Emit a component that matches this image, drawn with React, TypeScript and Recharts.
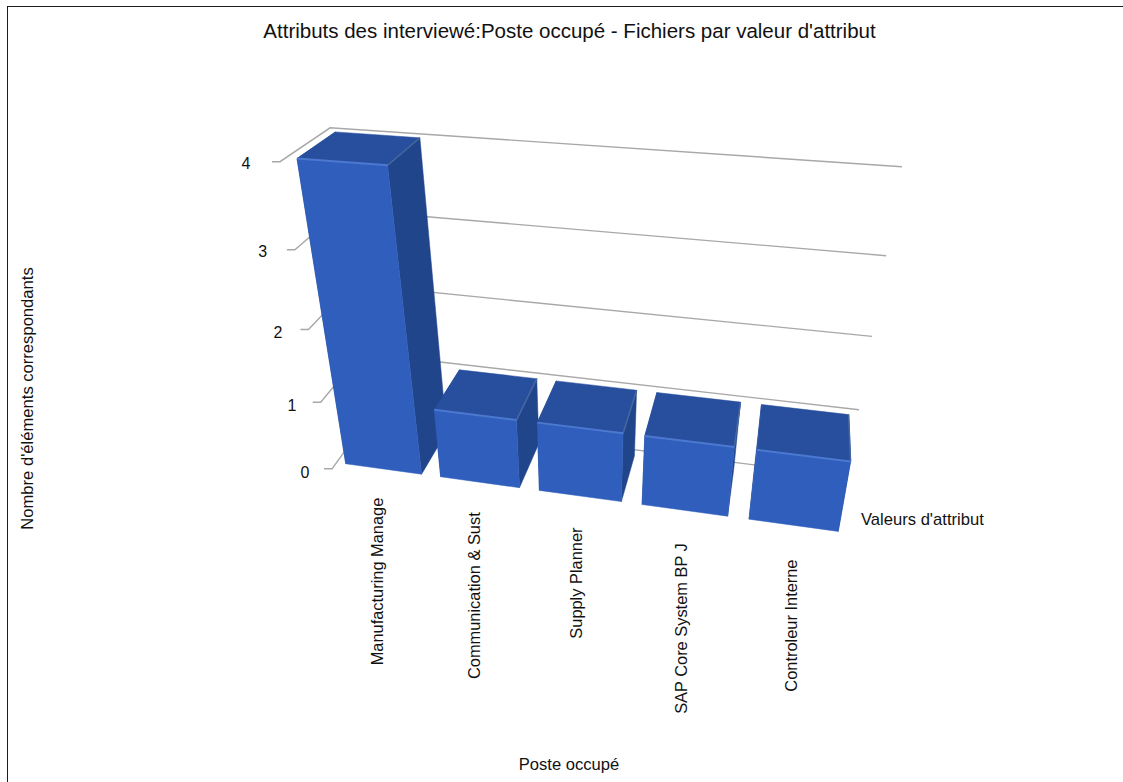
import React from "react";
import { BarChart, Bar, XAxis, YAxis, CartesianGrid } from "recharts";

const categories = [
  "Manufacturing Manage",
  "Communication & Sust",
  "Supply Planner",
  "SAP Core System BP J",
  "Controleur Interne",
];
const counts = [4, 1, 1, 1, 1];
const valueTicks = [0, 1, 2, 3, 4];

const rows = categories.map((name, i) => ({ name, count: counts[i] }));

const W = 1123;
const H = 782;
const PLOT = { left: 100, top: 100, width: 923, height: 582 };
const V_MAX = 4;
const BAR_FRONT = 0.11;
const BAR_BACK = 0.89;
const FONT = "'Liberation Sans', Arial, sans-serif";
const LABEL_SIZE = 16.6;

// Camera: homogeneous projection of (across, height, depth) in unit space onto the page.
const CAM = [
  0.43534, -0.09972, 0.06945, 0.33199,
  0.01942, -0.33456, -0.01737, 0.46875,
  -0.09683, -0.17036, 0.0844,
];

function project(u: number, h: number, d: number): [number, number] {
  const w = CAM[8] * u + CAM[9] * h + CAM[10] * d + 1;
  return [
    (1000 * (CAM[0] * u + CAM[1] * h + CAM[2] * d + CAM[3])) / w,
    (1000 * (CAM[4] * u + CAM[5] * h + CAM[6] * d + CAM[7])) / w,
  ];
}

const toU = (x: number) => (x - PLOT.left) / PLOT.width;
const toH = (y: number) => (PLOT.top + PLOT.height - y) / PLOT.height;
const poly = (pts: [number, number][]) => pts.map((p) => p.map((n) => n.toFixed(1)).join(",")).join(" ");

// Turns the flat rectangle from the bar scale into a lit box.
function BoxBar(props: any) {
  const { x, y, width, height } = props;
  const u0 = toU(x);
  const u1 = toU(x + width);
  const h1 = toH(y);
  const h0 = toH(y + height);
  const c = (u: number, h: number, d: number) => project(u, h, d);
  const ftl = c(u0, h1, BAR_FRONT);
  const ftr = c(u1, h1, BAR_FRONT);
  const fbl = c(u0, h0, BAR_FRONT);
  const fbr = c(u1, h0, BAR_FRONT);
  const btl = c(u0, h1, BAR_BACK);
  const btr = c(u1, h1, BAR_BACK);
  const bbl = c(u0, h0, BAR_BACK);
  const bbr = c(u1, h0, BAR_BACK);
  const SIDE = "#21458a";
  const TOP = "#274f9e";
  const FRONT = "#2f5ebd";
  return (
    <g>
      <polygon points={poly([fbl, ftl, btl, bbl])} fill={SIDE} stroke={SIDE} strokeWidth={0.5} />
      <polygon points={poly([fbr, ftr, btr, bbr])} fill={SIDE} stroke={SIDE} strokeWidth={0.5} />
      <polygon points={poly([ftl, ftr, btr, btl])} fill={TOP} stroke={TOP} strokeWidth={0.5} />
      <polygon points={poly([fbl, fbr, ftr, ftl])} fill={FRONT} stroke={FRONT} strokeWidth={0.5} />
      <line x1={ftr[0]} y1={ftr[1]} x2={btr[0]} y2={btr[1]} stroke="#46689f" strokeWidth={1.5} />
      <line x1={ftl[0]} y1={ftl[1]} x2={ftr[0]} y2={ftr[1]} stroke="#4c78d0" strokeWidth={2} />
    </g>
  );
}

// One height level: tick stub, left wall run and back wall run.
function LevelLine(props: any) {
  const h = toH(props.y1);
  const front = project(0, h, 0);
  const corner = project(0, h, 1);
  const end = project(1, h, 1);
  const d = `M${(front[0] - 8).toFixed(1)},${front[1].toFixed(1)} L${front[0].toFixed(1)},${front[1].toFixed(1)} L${corner[0].toFixed(1)},${corner[1].toFixed(1)} L${end[0].toFixed(1)},${end[1].toFixed(1)}`;
  return <path key={props.key ?? props.index} d={d} fill="none" stroke="#a8a8a8" strokeWidth={1.4} />;
}

function ValueTick(props: any) {
  const { y, payload } = props;
  const h = toH(y);
  const front = project(0, h, 0);
  return (
    <text
      x={front[0] - 27 - 7 * h}
      y={front[1] + 9.5 - 2.5 * h}
      textAnchor="middle"
      fontFamily={FONT}
      fontSize={16}
      fill="#111"
    >
      {payload.value}
    </text>
  );
}

function CategoryTick(props: any) {
  const { x, payload } = props;
  const u = toU(x);
  const base = project(u, 0, BAR_FRONT);
  const px = base[0] - 7 + 5.5 * u;
  const py = base[1] + 28 + 7 * u;
  return (
    <text
      transform={`translate(${px.toFixed(1)},${py.toFixed(1)}) rotate(-90)`}
      textAnchor="end"
      dy={6}
      fontFamily={FONT}
      fontSize={16.4}
      fill="#111"
    >
      {payload.value}
    </text>
  );
}

export default function App() {
  return (
    <div style={{ position: "absolute", left: 0, top: 0, width: W, height: H, overflow: "hidden", background: "#fff" }}>
      <div
        style={{
          position: "absolute",
          left: 7,
          top: 6,
          width: W - 7,
          height: H - 6,
          boxSizing: "border-box",
          borderTop: "1px solid #1c1c1c",
          borderLeft: "1px solid #1c1c1c",
        }}
      />
      <div style={{ position: "absolute", left: 0, top: 0 }}>
        <BarChart
          width={W}
          height={H}
          data={rows}
          barCategoryGap="10%"
          margin={{ top: PLOT.top, right: W - PLOT.left - PLOT.width, bottom: 0, left: 0 }}
        >
          <CartesianGrid vertical={false} horizontal={LevelLine as any} />
          <XAxis dataKey="name" height={H - PLOT.top - PLOT.height} axisLine={false} tickLine={false} interval={0} tick={CategoryTick as any} />
          <YAxis width={PLOT.left} domain={[0, V_MAX]} ticks={valueTicks} axisLine={false} tickLine={false} tick={ValueTick as any} />
          <Bar dataKey="count" isAnimationActive={false} shape={BoxBar as any} />
          <text x={569.5} y={38} textAnchor="middle" fontFamily={FONT} fontSize={20.5} fill="#111">
            {"Attributs des interviewé:Poste occupé - Fichiers par valeur d'attribut"}
          </text>
          <text x={569} y={770} textAnchor="middle" fontFamily={FONT} fontSize={LABEL_SIZE} fill="#111">
            Poste occupé
          </text>
          <text x={861} y={525} fontFamily={FONT} fontSize={LABEL_SIZE} fill="#111">
            {"Valeurs d'attribut"}
          </text>
          <text transform="translate(33,398.5) rotate(-90)" textAnchor="middle" fontFamily={FONT} fontSize={LABEL_SIZE} fill="#111">
            {"Nombre d'éléments correspondants"}
          </text>
        </BarChart>
      </div>
    </div>
  );
}
